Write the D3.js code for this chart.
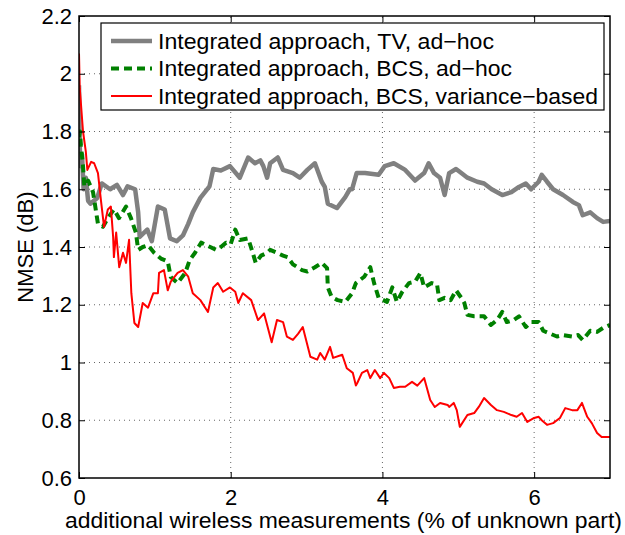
<!DOCTYPE html>
<html>
<head>
<meta charset="utf-8">
<script src="https://cdn.jsdelivr.net/npm/d3@7"></script>
<style>
  html, body { margin: 0; padding: 0; background: #fff; }
  svg text { font-family: "Liberation Sans", Arial, Helvetica, sans-serif; fill: #000; }
</style>
</head>
<body>
<svg id="chart" width="625" height="535"></svg>
<script>
// NMSE versus additional wireless measurements, three variants of the integrated approach.

const xTicks = [0, 2, 4, 6];
const yTicks = [0.6, 0.8, 1.0, 1.2, 1.4, 1.6, 1.8, 2.0, 2.2];

const seriesNames = [
  "Integrated approach, TV, ad\u2212hoc",
  "Integrated approach, BCS, ad\u2212hoc",
  "Integrated approach, BCS, variance\u2212based"
];

// TV, ad-hoc
const tvX = [0, 0.01, 0.02, 0.04, 0.06, 0.09, 0.12, 0.15, 0.24, 0.30, 0.41, 0.50, 0.58, 0.64, 0.74,
  0.78, 0.80, 0.90, 0.96, 1.00, 1.04, 1.13, 1.20, 1.29, 1.37, 1.44, 1.50, 1.60, 1.72, 1.77,
  1.87, 1.99, 2.12, 2.23, 2.32, 2.39, 2.43, 2.48, 2.52, 2.62, 2.69, 2.82, 2.91, 3.01, 3.11,
  3.20, 3.24, 3.28, 3.40, 3.51, 3.57, 3.60, 3.66, 3.77, 3.95, 4.03, 4.15, 4.30, 4.43, 4.55,
  4.61, 4.68, 4.76, 4.82, 4.88, 4.97, 5.04, 5.12, 5.25, 5.34, 5.44, 5.58, 5.70, 5.80, 5.89,
  5.96, 6.06, 6.10, 6.17, 6.25, 6.38, 6.51, 6.59, 6.64, 6.74, 6.83, 6.91, 7.00];
const tvY = [1.96, 1.75, 1.68, 1.72, 1.60, 1.64, 1.56, 1.55, 1.57, 1.62, 1.60, 1.615, 1.58, 1.61, 1.60,
  1.52, 1.435, 1.46, 1.42, 1.48, 1.54, 1.53, 1.43, 1.42, 1.44, 1.48, 1.52, 1.57, 1.61, 1.67,
  1.665, 1.68, 1.64, 1.71, 1.69, 1.70, 1.68, 1.64, 1.69, 1.71, 1.667, 1.656, 1.64, 1.667, 1.69,
  1.626, 1.608, 1.55, 1.535, 1.573, 1.60, 1.60, 1.656, 1.656, 1.65, 1.68, 1.69, 1.667, 1.63, 1.656,
  1.69, 1.656, 1.64, 1.58, 1.656, 1.67, 1.656, 1.64, 1.626, 1.62, 1.60, 1.58, 1.59, 1.608, 1.62,
  1.60, 1.626, 1.65, 1.626, 1.60, 1.58, 1.556, 1.545, 1.51, 1.52, 1.50, 1.487, 1.49];

// BCS, ad-hoc
const bcsX = [0, 0.013, 0.026, 0.053, 0.07, 0.12, 0.185, 0.25, 0.316, 0.38, 0.46, 0.527, 0.62, 0.685,
  0.75, 0.78, 0.84, 0.91, 0.99, 1.08, 1.17, 1.21, 1.30, 1.40, 1.46, 1.53, 1.61, 1.73, 1.81,
  1.87, 1.94, 2.00, 2.06, 2.12, 2.23, 2.29, 2.33, 2.40, 2.48, 2.52, 2.61, 2.69, 2.75, 2.82,
  2.94, 3.01, 3.11, 3.20, 3.27, 3.28, 3.33, 3.41, 3.51, 3.60, 3.65, 3.76, 3.84, 3.89, 3.95,
  4.06, 4.13, 4.19, 4.26, 4.35, 4.43, 4.50, 4.55, 4.65, 4.72, 4.75, 4.82, 4.90, 4.97, 5.04,
  5.08, 5.12, 5.21, 5.34, 5.43, 5.51, 5.58, 5.64, 5.73, 5.80, 5.89, 5.96, 6.06, 6.12, 6.21,
  6.30, 6.38, 6.50, 6.58, 6.64, 6.74, 6.83, 6.91, 7.00];
const bcsY = [1.78, 1.80, 1.75, 1.68, 1.61, 1.63, 1.59, 1.48, 1.47, 1.50, 1.53, 1.50, 1.54, 1.50,
  1.45, 1.39, 1.40, 1.406, 1.38, 1.36, 1.35, 1.296, 1.275, 1.31, 1.355, 1.38, 1.415, 1.40, 1.39,
  1.40, 1.415, 1.41, 1.46, 1.424, 1.43, 1.38, 1.345, 1.37, 1.38, 1.39, 1.38, 1.37, 1.365, 1.34,
  1.32, 1.315, 1.33, 1.345, 1.327, 1.26, 1.227, 1.216, 1.21, 1.24, 1.275, 1.297, 1.33, 1.275, 1.224,
  1.21, 1.26, 1.21, 1.244, 1.275, 1.28, 1.31, 1.26, 1.275, 1.27, 1.216, 1.224, 1.216, 1.25, 1.224,
  1.206, 1.165, 1.16, 1.16, 1.13, 1.147, 1.175, 1.14, 1.147, 1.16, 1.123, 1.14, 1.14, 1.11, 1.10,
  1.09, 1.095, 1.09, 1.095, 1.078, 1.11, 1.106, 1.12, 1.13];

// BCS, variance-based
const varX = [0, 0.01, 0.053, 0.09, 0.11, 0.16, 0.20, 0.25, 0.29, 0.33, 0.38, 0.42, 0.45, 0.46, 0.49,
  0.53, 0.58, 0.62, 0.66, 0.69, 0.73, 0.78, 0.84, 0.91, 0.98, 1.04, 1.055, 1.12, 1.17, 1.21,
  1.30, 1.37, 1.44, 1.50, 1.60, 1.70, 1.77, 1.83, 1.90, 1.99, 2.06, 2.10, 2.16, 2.27, 2.36,
  2.44, 2.54, 2.61, 2.69, 2.74, 2.82, 2.89, 2.95, 3.05, 3.14, 3.18, 3.24, 3.31, 3.35, 3.47,
  3.53, 3.61, 3.65, 3.67, 3.73, 3.80, 3.84, 3.90, 3.97, 4.02, 4.09, 4.15, 4.23, 4.30, 4.39,
  4.46, 4.55, 4.63, 4.69, 4.76, 4.86, 4.88, 4.94, 4.98, 5.02, 5.12, 5.21, 5.27, 5.34, 5.43,
  5.51, 5.60, 5.70, 5.77, 5.84, 5.91, 6.00, 6.06, 6.10, 6.17, 6.25, 6.34, 6.41, 6.50, 6.57,
  6.63, 6.70, 6.76, 6.83, 6.89, 7.00];
const varY = [2.07, 1.95, 1.80, 1.73, 1.667, 1.695, 1.69, 1.656, 1.56, 1.47, 1.53, 1.54, 1.435, 1.365, 1.45,
  1.33, 1.38, 1.345, 1.425, 1.24, 1.137, 1.123, 1.206, 1.19, 1.24, 1.24, 1.31, 1.32, 1.25, 1.28,
  1.31, 1.32, 1.297, 1.24, 1.216, 1.175, 1.26, 1.275, 1.245, 1.26, 1.245, 1.206, 1.24, 1.216, 1.147,
  1.17, 1.07, 1.147, 1.14, 1.09, 1.078, 1.10, 1.123, 1.02, 1.01, 1.033, 1.01, 1.054, 1.016, 1.027,
  0.98, 0.964, 0.92, 0.93, 0.964, 0.974, 0.946, 0.974, 0.946, 0.964, 0.946, 0.912, 0.916, 0.916, 0.933,
  0.92, 0.946, 0.87, 0.846, 0.86, 0.853, 0.846, 0.86, 0.835, 0.777, 0.818, 0.825, 0.846, 0.877, 0.853,
  0.835, 0.829, 0.818, 0.812, 0.825, 0.794, 0.808, 0.812, 0.80, 0.784, 0.79, 0.808, 0.842, 0.835, 0.835,
  0.86, 0.812, 0.79, 0.756, 0.742, 0.742];

const seriesColors = ["#808080", "#008000", "#ff0000"];
const seriesWidths = [4.5, 4, 2];
const seriesDashes = [null, "8,5", null];
const legendTextWidths = [336, 354, 440];

const svg = d3.select("#chart");
const margin = { left: 79, right: 15, top: 16, bottom: 57 };
const W = 625, H = 535;
const fontSize = 22;

const x = d3.scaleLinear().domain([0, 7]).range([margin.left, W - margin.right]);
const y = d3.scaleLinear().domain([0.6, 2.2]).range([H - margin.bottom, margin.top]);

const x0 = x.range()[0], x1 = x.range()[1];
const y0 = y.range()[0], y1 = y.range()[1];

// dotted grid
const grid = svg.append("g").attr("stroke", "#555").attr("stroke-width", 0.9)
  .attr("stroke-dasharray", "1,4");
grid.selectAll("line.gx").data(xTicks.filter(d => d > 0 && d < 7)).join("line")
  .attr("x1", d => x(d)).attr("x2", d => x(d)).attr("y1", y0).attr("y2", y1);
grid.selectAll("line.gy").data(yTicks.filter(d => d > 0.6 && d < 2.2)).join("line")
  .attr("y1", d => y(d)).attr("y2", d => y(d)).attr("x1", x0).attr("x2", x1);

// curves
svg.append("clipPath").attr("id", "plotclip").append("rect")
  .attr("x", x0).attr("y", y1).attr("width", x1 - x0).attr("height", y0 - y1);

const line = d3.line().x(d => x(d[0])).y(d => y(d[1])).curve(d3.curveLinear);
const data = [
  d3.zip(tvX, tvY),
  d3.zip(bcsX, bcsY),
  d3.zip(varX, varY)
];
const plot = svg.append("g").attr("clip-path", "url(#plotclip)");
data.forEach((pts, i) => {
  plot.append("path")
    .attr("d", line(pts))
    .attr("fill", "none")
    .attr("stroke", seriesColors[i])
    .attr("stroke-width", seriesWidths[i])
    .attr("stroke-linejoin", "round")
    .attr("stroke-dasharray", seriesDashes[i]);
});

// axes with inward ticks on all four sides
const fmt = d => d3.format("~g")(d);
const tickLen = 6;
svg.append("g").attr("transform", `translate(0,${y0})`)
  .call(d3.axisBottom(x).tickValues(xTicks).tickSize(-tickLen).tickPadding(11).tickFormat(fmt))
  .call(g => g.select(".domain").remove());
svg.append("g").attr("transform", `translate(0,${y1})`)
  .call(d3.axisTop(x).tickValues(xTicks).tickSize(-tickLen).tickFormat(""))
  .call(g => g.select(".domain").remove());
svg.append("g").attr("transform", `translate(${x0},0)`)
  .call(d3.axisLeft(y).tickValues(yTicks).tickSize(-tickLen).tickPadding(7).tickFormat(fmt))
  .call(g => g.select(".domain").remove());
svg.append("g").attr("transform", `translate(${x1},0)`)
  .call(d3.axisRight(y).tickValues(yTicks).tickSize(-tickLen).tickFormat(""))
  .call(g => g.select(".domain").remove());
svg.selectAll(".tick line").attr("stroke", "#000").attr("stroke-width", 1);
svg.selectAll(".tick text").attr("font-size", fontSize).attr("fill", "#000")
  .style("font-family", "'Liberation Sans', Arial, sans-serif");

svg.append("rect").attr("x", x0).attr("y", y1).attr("width", x1 - x0).attr("height", y0 - y1)
  .attr("fill", "none").attr("stroke", "#000").attr("stroke-width", 1.5);

// axis titles
svg.append("text").attr("x", 65).attr("y", 528)
  .attr("font-size", fontSize)
  .attr("textLength", 557).attr("lengthAdjust", "spacingAndGlyphs")
  .text("additional wireless measurements (% of unknown part)");
svg.append("text").attr("transform", `translate(33,${(y0 + y1) / 2}) rotate(-90)`)
  .attr("text-anchor", "middle").attr("font-size", fontSize)
  .text("NMSE (dB)");

// legend
const lg = svg.append("g");
lg.append("rect").attr("x", 101).attr("y", 23).attr("width", 503).attr("height", 87)
  .attr("fill", "#fff").attr("stroke", "#000").attr("stroke-width", 1.2);
seriesNames.forEach((name, i) => {
  const cy = 41 + i * 27.5;
  lg.append("line").attr("x1", 111).attr("x2", 152).attr("y1", cy).attr("y2", cy)
    .attr("stroke", seriesColors[i]).attr("stroke-width", seriesWidths[i])
    .attr("stroke-dasharray", seriesDashes[i]);
  lg.append("text").attr("x", 158).attr("y", cy + 7.5).attr("font-size", fontSize)
    .attr("textLength", legendTextWidths[i]).attr("lengthAdjust", "spacingAndGlyphs")
    .text(name);
});
</script>
</body>
</html>
